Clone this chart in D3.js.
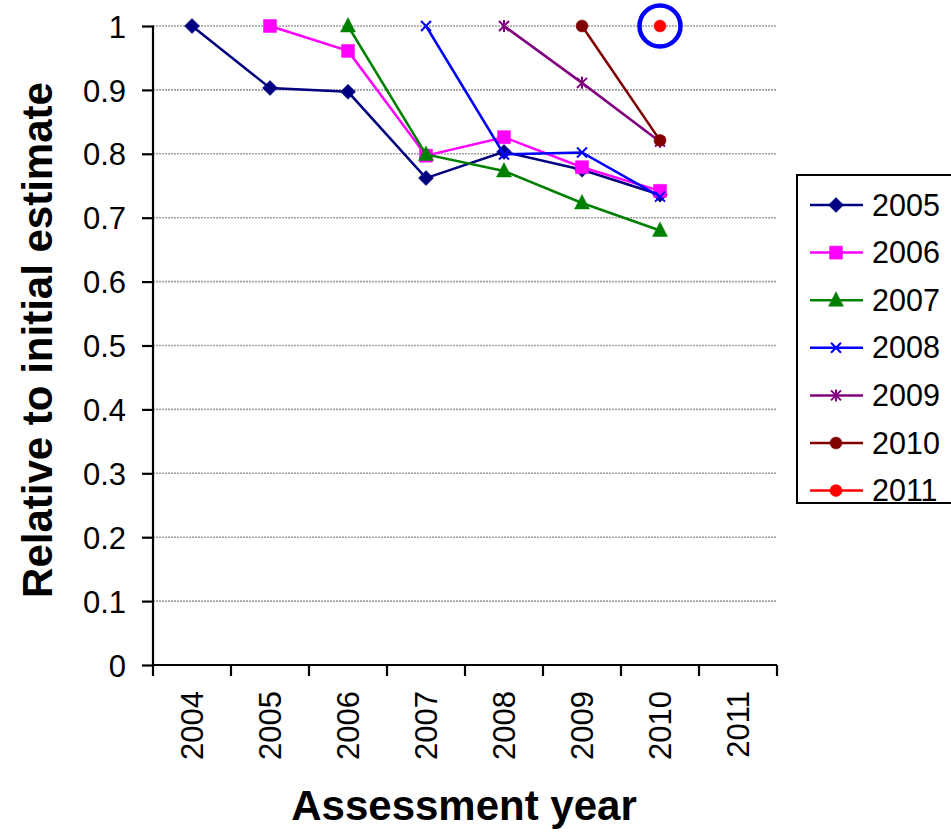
<!DOCTYPE html>
<html><head><meta charset="utf-8">
<script src="https://cdn.jsdelivr.net/npm/d3@7"></script>
<style>body{margin:0;background:#fff;} text{font-family:"Liberation Sans",Arial,sans-serif;}</style>
</head><body>
<svg id="chart" width="951" height="832"></svg>
<script>
const categories = ["2004","2005","2006","2007","2008","2009","2010","2011"];
const yTicks = [0,0.1,0.2,0.3,0.4,0.5,0.6,0.7,0.8,0.9,1];
const seriesNames = ["2005","2006","2007","2008","2009","2010","2011"];
const s2005 = [1, 0.903, 0.897, 0.762, 0.803, 0.775, 0.736, null];
const s2006 = [null, 1, 0.961, 0.797, 0.826, 0.779, 0.742, null];
const s2007 = [null, null, 1, 0.799, 0.773, 0.723, 0.680, null];
const s2008 = [null, null, null, 1, 0.799, 0.802, 0.733, null];
const s2009 = [null, null, null, null, 1, 0.911, 0.819, null];
const s2010 = [null, null, null, null, null, 1, 0.821, null];
const s2011 = [null, null, null, null, null, null, 1, null];
const seriesValues = [s2005, s2006, s2007, s2008, s2009, s2010, s2011];
const seriesColors = ["#000080","#ff00ff","#008000","#0000ff","#800080","#800000","#ff0000"];
const seriesMarkers = ["diamond","square","triangle","x","star","circle","circle"];
const highlight = {series:"2011", category:"2010"};

const svg = d3.select("#chart");
const x = d3.scaleBand().domain(categories).range([153, 777]).padding(0);
const y = d3.scaleLinear().domain([0,1]).range([665, 26]);

// gridlines
svg.append("g").selectAll("line").data(yTicks.filter(d=>d>0)).join("line")
  .attr("x1",153).attr("x2",777).attr("y1",d=>y(d)).attr("y2",d=>y(d))
  .attr("stroke","#a0a0a0").attr("stroke-width",1.6).attr("stroke-dasharray","2,1");

// y axis
const yAxis = svg.append("g").attr("transform","translate(153,0)")
  .call(d3.axisLeft(y).tickValues(yTicks).tickSize(11).tickPadding(16).tickFormat(d=>d3.format("")(+d.toFixed(1))));
yAxis.select(".domain").attr("stroke","#000").attr("stroke-width",2.2).attr("d","M0,"+y(0)+"V"+(y(1)-0.5));
yAxis.selectAll(".tick line").attr("stroke","#000").attr("stroke-width",2.2);
yAxis.selectAll(".tick text").attr("font-size",31).attr("fill","#000").attr("dy","0.36em");

// x axis
const xAxis = svg.append("g").attr("transform","translate(0,665)")
  .call(d3.axisBottom(x).tickSize(0).tickPadding(0));
xAxis.select(".domain").attr("stroke","#000").attr("stroke-width",2.2).attr("d","M153,0H777");
xAxis.selectAll(".tick text").remove();
xAxis.selectAll(".tick line").remove();
const edges = categories.map(c=>x(c)).concat([x(categories[categories.length-1])+x.bandwidth()]);
svg.append("g").selectAll("line").data(edges).join("line")
  .attr("x1",d=>d).attr("x2",d=>d).attr("y1",665).attr("y2",676)
  .attr("stroke","#000").attr("stroke-width",2.2);
svg.append("g").selectAll("text").data(categories).join("text")
  .attr("transform",d=>`translate(${x(d)+x.bandwidth()/2+11},691) rotate(-90)`)
  .attr("text-anchor","end").attr("font-size",31).attr("fill","#000").text(d=>d);

// axis titles
svg.append("text").attr("transform","translate(52,340) rotate(-90)").attr("text-anchor","middle")
  .attr("font-size",42).attr("font-weight","bold").text("Relative to initial estimate");
svg.append("text").attr("x",464).attr("y",820).attr("text-anchor","middle")
  .attr("font-size",42).attr("font-weight","bold").text("Assessment year");

function markerPath(type){
  switch(type){
    case "diamond": return "M0,-7.5L7.5,0L0,7.5L-7.5,0Z";
    case "square": return "M-6.5,-6.5H6.5V6.5H-6.5Z";
    case "triangle": return "M0,-8.5L7.5,6L-7.5,6Z";
    case "x": return "M-5,-5L5,5M-5,5L5,-5";
    case "star": return "M-5,-5L5,5M-5,5L5,-5M0,-6V6";
    case "circle": return "M-6,0A6,6 0 1,0 6,0A6,6 0 1,0 -6,0Z";
  }
}
function drawMarker(g, type, color){
  const stroked = (type==="x"||type==="star");
  g.append("path").attr("d",markerPath(type))
    .attr("fill",stroked?"none":color).attr("stroke",color).attr("stroke-width",stroked?2:0.5);
}

// lines & markers
const line = d3.line().defined(d=>d.v!==null).x(d=>x(d.c)+x.bandwidth()/2).y(d=>y(d.v));
seriesNames.forEach((name,i)=>{
  const pts = categories.map((c,j)=>({c, v: seriesValues[i][j]}));
  svg.append("path").datum(pts).attr("d",line).attr("fill","none")
    .attr("stroke",seriesColors[i]).attr("stroke-width",2.5);
  pts.filter(p=>p.v!==null).forEach(p=>{
    const g = svg.append("g").attr("transform",`translate(${x(p.c)+x.bandwidth()/2},${y(p.v)})`);
    drawMarker(g, seriesMarkers[i], seriesColors[i]);
  });
});

// highlight circle
const hi = seriesNames.indexOf(highlight.series), hj = categories.indexOf(highlight.category);
svg.append("circle").attr("cx",x(highlight.category)+x.bandwidth()/2).attr("cy",y(seriesValues[hi][hj]))
  .attr("r",20.5).attr("fill","none").attr("stroke","#0000ff").attr("stroke-width",4.5);

// legend
const lg = svg.append("g");
lg.append("rect").attr("x",797).attr("y",175).attr("width",170).attr("height",328)
  .attr("fill","#fff").attr("stroke","#000").attr("stroke-width",2);
seriesNames.forEach((name,i)=>{
  const yy = 205 + i*47.6;
  lg.append("line").attr("x1",810).attr("x2",863).attr("y1",yy).attr("y2",yy)
    .attr("stroke",seriesColors[i]).attr("stroke-width",2.5);
  const g = lg.append("g").attr("transform",`translate(836,${yy})`);
  drawMarker(g, seriesMarkers[i], seriesColors[i]);
  lg.append("text").attr("x",872).attr("y",yy).attr("dy","0.35em").attr("font-size",30.5).text(name);
});
</script>
</body></html>
